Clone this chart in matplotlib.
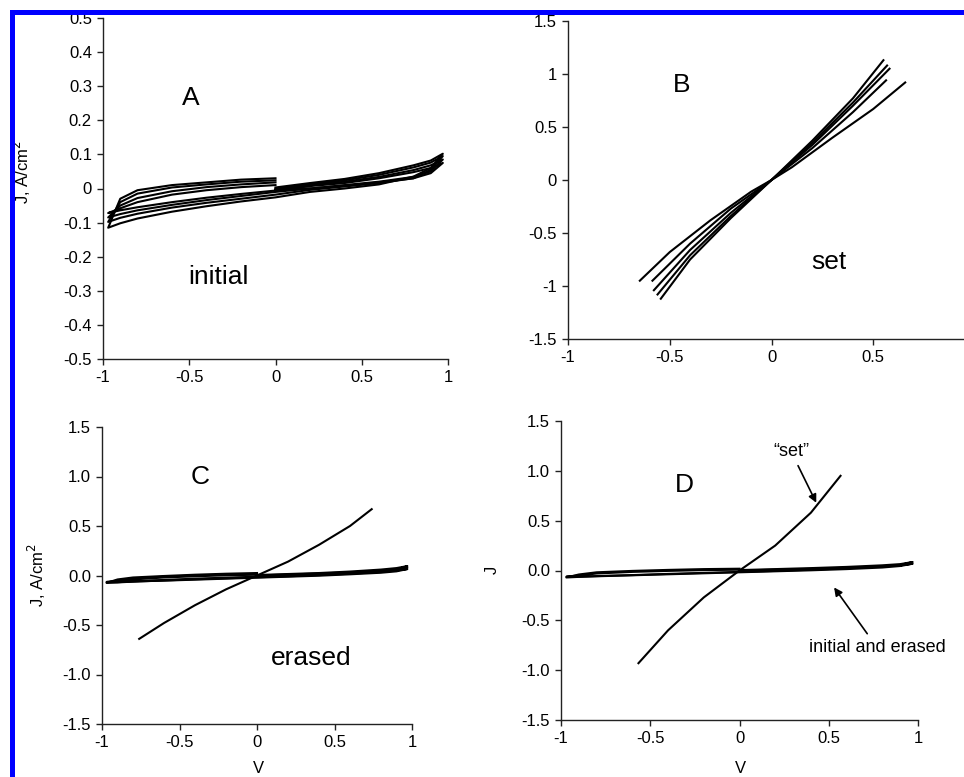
import matplotlib
matplotlib.use("Agg")
import matplotlib.pyplot as plt
from matplotlib.patches import Rectangle

plt.rcParams['font.family'] = ['Liberation Sans', 'DejaVu Sans']
plt.rcParams['axes.unicode_minus'] = False

# sweep order for the hysteresis loops: 0 -> +1 -> -1 -> 0
v_sweep = [0.0, 0.2, 0.4, 0.6, 0.8, 0.9, 0.97, 0.9, 0.8, 0.6, 0.4, 0.2, 0.0,
           -0.2, -0.4, -0.6, -0.8, -0.9, -0.97, -0.9, -0.8, -0.6, -0.4, -0.2, 0.0]

# panel A, "initial"
a_loop1 = [0.003, 0.016, 0.028, 0.045, 0.068, 0.082, 0.102, 0.060, 0.035, 0.012, 0.000, -0.010, -0.026,
           -0.038, -0.052, -0.068, -0.088, -0.102, -0.115, -0.030, -0.005, 0.010, 0.018, 0.026, 0.030]
a_loop2 = [0.000, 0.013, 0.024, 0.040, 0.062, 0.076, 0.095, 0.055, 0.030, 0.016, 0.006, -0.004, -0.018,
           -0.030, -0.042, -0.056, -0.074, -0.086, -0.098, -0.040, -0.015, 0.003, 0.012, 0.020, 0.024]
a_loop3 = [-0.002, 0.010, 0.020, 0.034, 0.054, 0.068, 0.085, 0.050, 0.034, 0.020, 0.010, 0.000, -0.010,
           -0.022, -0.034, -0.048, -0.064, -0.075, -0.085, -0.050, -0.028, -0.008, 0.004, 0.012, 0.018]
a_loop4 = [-0.004, 0.007, 0.016, 0.030, 0.048, 0.060, 0.075, 0.045, 0.030, 0.018, 0.008, 0.000, -0.006,
           -0.016, -0.027, -0.040, -0.055, -0.064, -0.072, -0.058, -0.040, -0.018, -0.005, 0.004, 0.010]

# panel B, "set"
b_v = [[-0.647, -0.5, -0.3, -0.1, 0.0, 0.1, 0.3, 0.5, 0.657],
       [-0.585, -0.4, -0.2, 0.0, 0.2, 0.4, 0.563],
       [-0.578, -0.4, -0.2, 0.0, 0.2, 0.4, 0.580],
       [-0.560, -0.4, -0.2, 0.0, 0.2, 0.4, 0.568],
       [-0.544, -0.4, -0.2, 0.0, 0.2, 0.4, 0.550]]
b_j = [[-0.95, -0.68, -0.38, -0.11, 0.0, 0.12, 0.40, 0.67, 0.92],
       [-0.95, -0.60, -0.27, 0.0, 0.30, 0.64, 0.94],
       [-1.04, -0.66, -0.31, 0.0, 0.33, 0.70, 1.05],
       [-1.08, -0.71, -0.34, 0.0, 0.35, 0.73, 1.08],
       [-1.12, -0.75, -0.36, 0.0, 0.37, 0.77, 1.13]]

# panel C, "erased"
c_loop1 = [0.005, 0.015, 0.025, 0.040, 0.060, 0.075, 0.095, 0.060, 0.045, 0.025, 0.010, -0.002, -0.012,
           -0.022, -0.032, -0.045, -0.058, -0.068, -0.075, -0.040, -0.020, -0.005, 0.008, 0.018, 0.025]
c_loop2 = [0.000, 0.010, 0.020, 0.032, 0.050, 0.062, 0.080, 0.050, 0.035, 0.018, 0.004, -0.008, -0.018,
           -0.028, -0.038, -0.050, -0.062, -0.070, -0.070, -0.050, -0.030, -0.012, 0.000, 0.010, 0.015]
c_loop3 = [-0.004, 0.006, 0.015, 0.026, 0.042, 0.052, 0.065, 0.042, 0.028, 0.012, -0.002, -0.012, -0.022,
           -0.032, -0.042, -0.052, -0.060, -0.064, -0.065, -0.055, -0.040, -0.020, -0.008, 0.002, 0.008]
c_set_v = [-0.76, -0.6, -0.4, -0.2, 0.0, 0.2, 0.4, 0.6, 0.74]
c_set_j = [-0.64, -0.48, -0.30, -0.14, 0.0, 0.14, 0.31, 0.50, 0.67]

# panel D, "set" vs "initial and erased"
d_loop1 = [0.004, 0.014, 0.024, 0.036, 0.052, 0.064, 0.085, 0.055, 0.040, 0.022, 0.008, -0.004, -0.014,
           -0.024, -0.034, -0.046, -0.056, -0.064, -0.070, -0.040, -0.018, -0.004, 0.006, 0.014, 0.018]
d_loop2 = [0.000, 0.008, 0.016, 0.028, 0.042, 0.052, 0.068, 0.045, 0.030, 0.014, 0.002, -0.008, -0.018,
           -0.028, -0.038, -0.048, -0.058, -0.062, -0.062, -0.050, -0.030, -0.014, -0.004, 0.004, 0.008]
d_set_v = [-0.566, -0.4, -0.2, 0.0, 0.2, 0.4, 0.566]
d_set_j = [-0.93, -0.60, -0.27, 0.0, 0.25, 0.58, 0.95]

x_ticks = [-1, -0.5, 0, 0.5, 1]
x_labels = ['-1', '-0.5', '0', '0.5', '1']
a_yticks = [0.5, 0.4, 0.3, 0.2, 0.1, 0, -0.1, -0.2, -0.3, -0.4, -0.5]
a_ylabels = ['0.5', '0.4', '0.3', '0.2', '0.1', '0', '-0.1', '-0.2', '-0.3', '-0.4', '-0.5']
b_yticks = [1.5, 1, 0.5, 0, -0.5, -1, -1.5]
b_ylabels = ['1.5', '1', '0.5', '0', '-0.5', '-1', '-1.5']
cd_ylabels = ['1.5', '1.0', '0.5', '0.0', '-0.5', '-1.0', '-1.5']

fig = plt.figure(figsize=(9.64, 7.77), dpi=100)
W, H = 964.0, 777.0


def make_ax(l, r, t, b):
    ax = fig.add_axes([l / W, 1 - b / H, (r - l) / W, (b - t) / H])
    for s in ['top', 'right']:
        ax.spines[s].set_visible(False)
    for s in ['left', 'bottom']:
        ax.spines[s].set_linewidth(1.0)
        ax.spines[s].set_color('#222222')
    ax.tick_params(direction='out', length=4, width=1, labelsize=12, color='#222222', pad=4)
    return ax


lw = 1.5

axA = make_ax(103, 448, 18, 359)
for lp in [a_loop1, a_loop2, a_loop3, a_loop4]:
    axA.plot(v_sweep, lp, color='black', lw=lw)
axA.set_xlim(-1, 1)
axA.set_ylim(-0.5, 0.5)
axA.set_xticks(x_ticks, x_labels)
axA.set_yticks(a_yticks, a_ylabels)
axA.text(-0.49, 0.265, 'A', fontsize=19, ha='center', va='center')
axA.text(-0.33, -0.26, 'initial', fontsize=19, ha='center', va='center')

axB = make_ax(568, 975, 21, 339)
for vv, jj in zip(b_v, b_j):
    axB.plot(vv, jj, color='black', lw=lw)
axB.set_xlim(-1, 1)
axB.set_ylim(-1.5, 1.5)
axB.set_xticks(x_ticks[:4], x_labels[:4])
axB.set_yticks(b_yticks, b_ylabels)
axB.text(-0.44, 0.9, 'B', fontsize=19, ha='center', va='center')
axB.text(0.28, -0.77, 'set', fontsize=19, ha='center', va='center')

axC = make_ax(102, 412, 427, 724)
for lp in [c_loop1, c_loop2, c_loop3]:
    axC.plot(v_sweep, lp, color='black', lw=lw)
axC.plot(c_set_v, c_set_j, color='black', lw=lw)
axC.set_xlim(-1, 1)
axC.set_ylim(-1.5, 1.5)
axC.set_xticks(x_ticks, x_labels)
axC.set_yticks(b_yticks, cd_ylabels)
axC.text(-0.37, 1.0, 'C', fontsize=19, ha='center', va='center')
axC.text(0.35, -0.83, 'erased', fontsize=19, ha='center', va='center')

axD = make_ax(561, 918, 421, 720)
for lp in [d_loop1, d_loop2]:
    axD.plot(v_sweep, lp, color='black', lw=lw)
axD.plot(d_set_v, d_set_j, color='black', lw=lw)
axD.set_xlim(-1, 1)
axD.set_ylim(-1.5, 1.5)
axD.set_xticks(x_ticks, x_labels)
axD.set_yticks(b_yticks, cd_ylabels)
axD.text(-0.31, 0.86, 'D', fontsize=19, ha='center', va='center')
arrow = dict(arrowstyle='-|>', color='black', lw=1.2, mutation_scale=12, shrinkA=2, shrinkB=0)
axD.annotate('\u201cset\u201d', xy=(0.43, 0.68), xytext=(0.29, 1.19), fontsize=13,
             ha='center', va='center', arrowprops=arrow)
axD.annotate('initial and erased', xy=(0.53, -0.17), xytext=(0.77, -0.77), fontsize=13,
             ha='center', va='center', arrowprops=arrow)

fig.text(22 / W, 1 - 172 / H, 'J, A/cm$^2$', rotation=90, ha='center', va='center', fontsize=12)
fig.text(37 / W, 1 - 575 / H, 'J, A/cm$^2$', rotation=90, ha='center', va='center', fontsize=12)
fig.text(492 / W, 1 - 570 / H, 'J', rotation=90, ha='center', va='center', fontsize=12)
fig.text(258 / W, 1 / H, 'V', ha='center', va='bottom', fontsize=12)
fig.text(740 / W, 1 / H, 'V', ha='center', va='bottom', fontsize=12)

# blue frame on the left and top edges
fig.add_artist(Rectangle((0, 1 - 10 / H), 1, 10 / H, transform=fig.transFigure,
                         facecolor='white', edgecolor='none', zorder=9))
fig.add_artist(Rectangle((10 / W, 0), 5 / W, 1 - 10 / H, transform=fig.transFigure,
                         facecolor='#0000ff', edgecolor='none', zorder=10))
fig.add_artist(Rectangle((10 / W, 1 - 15 / H), 1, 5 / H, transform=fig.transFigure,
                         facecolor='#0000ff', edgecolor='none', zorder=10))

fig.savefig('out.png', dpi=100)
